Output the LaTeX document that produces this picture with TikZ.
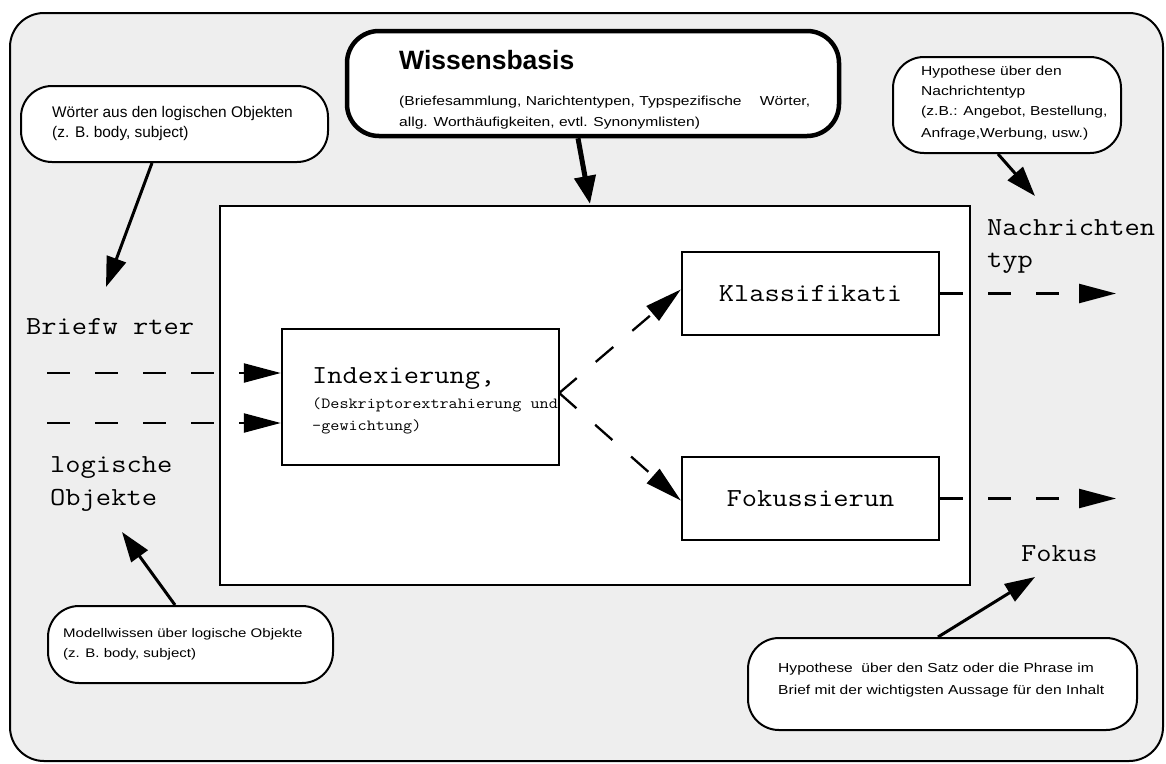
\documentclass[tikz,border=0pt]{standalone}
\usepackage{fontspec}
\setmainfont{Liberation Sans}
\newfontfamily\cour[FakeStretch=1.14]{Latin Modern Mono}
\newfontfamily\widesans[FakeStretch=1.2]{Liberation Sans}
\usetikzlibrary{arrows.meta,calc}
\definecolor{bg}{HTML}{EEEEEE}
\begin{document}
\begin{tikzpicture}[x=1pt,y=-1pt,
  frame/.style={draw, line width=2pt, fill=bg, rounded corners=34pt, inner sep=0pt},
  box/.style={draw, line width=2.4pt, fill=white, inner sep=0pt},
  wbox/.style={draw, line width=4.5pt, fill=white, rounded corners=32pt, inner sep=0pt},
  callout/.style={draw, line width=2pt, fill=white, rounded corners=31pt, inner sep=0pt},
  arr/.style={line width=3pt, -{Triangle[length=30pt,width=20pt]}},
  bigarr/.style={line width=5pt, -{Triangle[length=28pt,width=21pt]}},
  dasharr/.style={line width=2.3pt, dash pattern=on 23pt off 25pt, -{Triangle[length=37pt,width=19pt]}},
  mono/.style={font=\cour\fontsize{26}{30}\selectfont, inner sep=0pt, anchor=base west},
  monosmall/.style={font=\cour\fontsize{15.5}{18}\selectfont, inner sep=0pt, anchor=base west},
  ctext/.style={font=\fontsize{15.4}{18}\selectfont, inner sep=0pt, anchor=base west},
  wtext/.style={font=\widesans\fontsize{13}{16}\selectfont, inner sep=0pt, anchor=base west},
  title/.style={font=\bfseries\fontsize{26.5}{30}\selectfont, inner sep=0pt, anchor=base west}
]
\useasboundingbox (0,0) rectangle (1166,763);

% outer frame
\node[frame, minimum width=1153pt, minimum height=748pt] (frame) at (586.5,387) {};

% Wissensbasis
\node[wbox, minimum width=492pt, minimum height=105pt] (wb) at (593,83.5) {};
\node[title] (wbt) at (399,69) {Wissensbasis};
\node[wtext] (wb1) at (399,105) {\hbox to 411pt{(Briefesammlung, Narichtentypen, Typspezifische\hfill Wörter,}};
\node[wtext] (wb2) at (399,126) {allg. Worthäufigkeiten, evtl. Synonymlisten)};

% big box
\node[box, minimum width=750pt, minimum height=379pt] (big) at (595,395.5) {};

% inner boxes
\node[box, minimum width=277pt, minimum height=136pt] (idx) at (420.5,397) {};
\node[mono] (idx1) at (312,383) {Indexierung,};
\node[monosmall] (idx2) at (312,408) {(Deskriptorextrahierung und};
\node[monosmall] (idx3) at (312,430) {-gewichtung)};

\node[box, minimum width=257pt, minimum height=83pt, font=\cour\fontsize{26}{30}\selectfont] (kl) at (810.5,293.5) {Klassifikati};
\node[box, minimum width=257pt, minimum height=83pt, font=\cour\fontsize{26}{30}\selectfont] (fo) at (810.5,498.5) {Fokussierun};

% side labels
\node[mono] (bw) at (26,334) {Briefw rter};
\node[mono] (lo1) at (50,472) {logische};
\node[mono] (lo2) at (50,505) {Objekte};
\node[mono] (nt1) at (987,235) {Nachrichten};
\node[mono] (nt2) at (987,267) {typ};
\node[mono] (fk) at (1021,561) {Fokus};

% callouts
\node[callout, minimum width=307pt, minimum height=76pt] (wc) at (174.5,124) {};
\node[ctext] (wc1) at (52,117) {Wörter aus den logischen Objekten};
\node[ctext] (wc2) at (52,137) {(z. B. body, subject)};

\node[callout, minimum width=228pt, minimum height=96pt] (hn) at (1007,105) {};
\node[wtext] (hn1) at (921,75) {Hypothese über den};
\node[wtext] (hn2) at (921,95) {Nachrichtentyp};
\node[wtext] (hn3) at (921,115) {(z.B.: Angebot, Bestellung,};
\node[wtext] (hn4) at (921,137) {Anfrage,Werbung, usw.)};

\node[callout, minimum width=285pt, minimum height=77pt] (mw) at (190.5,644.5) {};
\node[wtext, font=\widesans\fontsize{12.5}{16}\selectfont] (mw1) at (63,637) {Modellwissen über logische Objekte};
\node[wtext, font=\widesans\fontsize{12.5}{16}\selectfont] (mw2) at (63,657) {(z. B. body, subject)};

\node[callout, minimum width=389pt, minimum height=92pt] (hs) at (942.5,684) {};
\node[wtext] (hs1) at (778,672) {Hypothese\ \ über den Satz oder die Phrase im};
\node[wtext] (hs2) at (778,694) {Brief mit der wichtigsten Aussage für den Inhalt};

% free ends
\coordinate (wbtip) at (590,204);
\coordinate (wctip) at (106,287);
\coordinate (hntip) at (1035,196);
\coordinate (mwtip) at (122,532);
\coordinate (hstip) at (1035,577);
\coordinate (in1) at (47,373);
\coordinate (in2) at (47,423);
\coordinate (kt) at (1116,296);
\coordinate (ft) at (1116,501);

% solid arrows
\draw[bigarr] ([xshift=-15pt]wb.south) -- (wbtip);
\draw[arr] ([xshift=-22.5pt]wc.south) -- (wctip);
\draw[arr] ([xshift=-9pt]hn.south) -- (hntip);
\draw[arr] ([xshift=-15.5pt]mw.north) -- (mwtip);
\draw[arr] ([xshift=-4.5pt]hs.north) -- (hstip);

% dashed arrows
\draw[dasharr] (in1) -- (idx.west |- in1);
\draw[dasharr] (in2) -- (idx.west |- in2);
\draw[dasharr] ([shift={(-1pt,4pt)}]idx.east) -- ([yshift=4pt]kl.west);
\draw[dasharr] ([shift={(-1pt,4pt)}]idx.east) -- ([yshift=-2pt]fo.west);
\draw[dasharr] (kl.east) -- (kl.east -| kt);
\draw[dasharr] (fo.east) -- (fo.east -| ft);
\end{tikzpicture}
\end{document}
